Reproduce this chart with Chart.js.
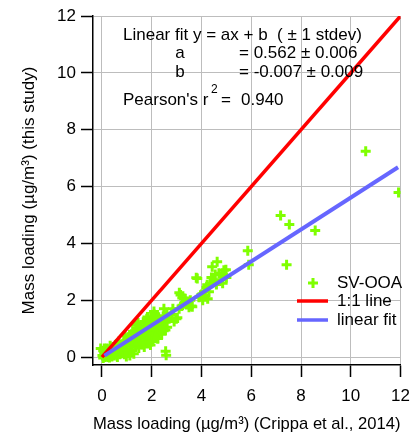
<!DOCTYPE html>
<html>
<head>
<meta charset="utf-8">
<script src="https://cdn.jsdelivr.net/npm/chart.js@4.4.1/dist/chart.umd.min.js"></script>
<style>
  html, body { margin: 0; padding: 0; background: #fff; }
  #wrap { width: 419px; height: 435px; }
</style>
</head>
<body>
<div id="wrap"><canvas id="chart"></canvas></div>
<script>
// SV-OOA mass loading: Crippa et al. 2014 (x) vs this study (y)
const xVals = [
  0.02, 0.05, 0.10, 0.15, 0.20, 0.22, 0.28, 0.30, 0.35, 0.38, 0.42, 0.45, 0.50, 0.52, 0.55,
  0.60, 0.62, 0.65, 0.70, 0.72, 0.75, 0.80, 0.80, 0.10, 0.18, 0.05, 0.25, 0.33, 0.48, 0.58,
  -0.05, 0.12, 0.40, 0.68,
  0.85, 0.88, 0.90, 0.95, 1.00, 1.00, 1.05, 1.08, 1.10, 1.15, 1.18, 1.20, 1.22, 1.25, 1.30,
  1.32, 1.35, 1.38, 1.40, 1.42, 1.45, 1.48, 1.50, 1.52, 1.55, 1.58, 1.60, 0.92, 1.12, 1.28,
  0.98, 1.36, 1.45,
  1.62, 1.65, 1.68, 1.70, 1.72, 1.75, 1.78, 1.80, 1.82, 1.85, 1.88, 1.90, 1.92, 1.95, 1.98,
  2.00, 2.02, 2.05, 2.08, 2.10, 2.12, 2.15, 2.18, 2.20, 2.22, 2.25, 2.28, 2.30, 2.32, 2.35,
  2.38, 2.40, 2.45, 2.49, 2.50, 2.55, 2.60, 2.55, 2.62, 1.83, 2.09, 1.70, 1.95, 2.00, 1.89,
  2.23, 2.56, 2.58,
  2.70, 2.80, 2.90, 2.99, 3.03, 3.10, 3.11, 3.16, 3.23, 3.30, 3.35, 3.40, 3.45, 3.50, 3.55,
  3.60, 3.63, 3.20, 2.85,
  3.79, 3.83, 3.90, 4.00, 4.05, 4.10, 4.15, 4.20, 4.23, 4.25, 4.30, 4.35, 4.40, 4.43, 4.50,
  4.55, 4.63, 4.70, 4.78, 4.83, 4.90, 4.98, 5.00, 4.85, 4.60,
  5.86, 5.90, 7.18, 7.42, 7.53, 8.57, 10.60, 11.92
];
const yVals = [
  0.05, 0.22, 0.12, 0.02, 0.30, 0.10, 0.18, -0.02, 0.25, 0.08, 0.15, 0.35, 0.05, 0.22, 0.12,
  0.30, 0.00, 0.20, 0.40, 0.10, 0.28, 0.18, 0.45, 0.30, 0.20, -0.03, 0.00, 0.40, 0.25, 0.45,
  0.30, 0.00, 0.02, 0.55,
  0.30, 0.55, 0.10, 0.45, 0.60, 0.25, 0.70, 0.15, 0.50, 0.38, 0.80, 0.60, 0.25, 0.90, 0.50,
  0.70, 0.35, 1.00, 0.60, 0.80, 0.45, 0.32, 0.70, 0.95, 0.55, 1.10, 0.80, 0.75, 0.05, 0.12,
  0.02, 1.12, 1.20,
  0.45, 0.95, 0.70, 1.25, 0.55, 1.00, 0.85, 1.35, 0.60, 1.10, 0.90, 0.50, 1.20, 0.75, 1.40,
  1.00, 0.65, 1.20, 0.85, 1.50, 1.05, 0.70, 1.30, 0.95, 1.15, 0.65, 1.40, 1.20, 0.90, 1.05,
  1.30, 0.80, 1.15, 1.70, 1.45, 1.25, 1.55, 0.95, 1.05, 1.41, 1.60, 0.35, 0.42, 0.55, 0.53,
  0.65, 0.20, 0.06,
  1.35, 1.50, 1.25, 1.35, 1.38, 1.70, 2.26, 2.18, 2.08, 1.90, 2.05, 1.85, 1.95, 1.75, 2.00,
  1.80, 1.77, 1.80, 1.70,
  2.79, 2.76, 2.10, 2.20, 2.00, 2.30, 2.15, 2.45, 2.54, 2.05, 2.30, 2.60, 2.80, 3.18, 2.70,
  2.90, 3.35, 2.95, 2.72, 2.90, 3.05, 3.07, 2.80, 2.60, 2.55,
  3.74, 3.25, 4.98, 3.25, 4.66, 4.45, 7.24, 5.79
];

// 1:1 line and linear fit (y = 0.562x - 0.007) end points
const oneToOneX = [0, 12];
const oneToOneY = [0, 12];
const fitX = [0.1, 11.9];
const fitY = [0.05, 6.68];

const tickValues = [0, 2, 4, 6, 8, 10, 12];

const fitText = [
  'Linear fit y = ax + b  ( \u00b1 1 stdev)',
  'a', '= 0.562 \u00b1 0.006',
  'b', '= -0.007 \u00b1 0.009'
];
const legendLabels = ['SV-OOA', '1:1 line', 'linear fit'];

const FONT = '"Liberation Sans", Arial, sans-serif';
const FS = 17;
const GREEN = '#7fff00';
const RED = '#ff0000';
const BLUE = '#6666ff';

function toPoints(xs, ys) {
  return xs.map((x, i) => ({ x: x, y: ys[i] }));
}

// text box + legend drawn inside the plot area
const annotations = {
  id: 'annotations',
  afterDraw(chart) {
    const ctx = chart.ctx;
    const a = chart.chartArea;
    ctx.save();
    ctx.fillStyle = '#000';
    ctx.textBaseline = 'alphabetic';
    ctx.font = FS + 'px ' + FONT;
    ctx.textAlign = 'left';
    ctx.fillText(fitText[0], a.left + 30, a.top + 24);
    ctx.textAlign = 'center';
    ctx.fillText(fitText[1], a.left + 87, a.top + 42);
    ctx.fillText(fitText[3], a.left + 87, a.top + 61);
    ctx.textAlign = 'left';
    ctx.fillText(fitText[2], a.left + 146, a.top + 42);
    ctx.fillText(fitText[4], a.left + 146, a.top + 61);

    ctx.fillText("Pearson's r", a.left + 30, a.top + 89);
    ctx.font = '12px ' + FONT;
    ctx.fillText('2', a.left + 118, a.top + 77);
    ctx.font = FS + 'px ' + FONT;
    ctx.fillText('=', a.left + 128, a.top + 89);
    ctx.fillText('0.940', a.left + 148, a.top + 89);

    // legend
    const lx = a.left + 204;
    const tx = a.left + 244;
    const ly = [a.top + 267, a.top + 285, a.top + 304];
    ctx.strokeStyle = GREEN;
    ctx.lineWidth = 3;
    ctx.beginPath();
    ctx.moveTo(a.left + 215, ly[0]); ctx.lineTo(a.left + 225, ly[0]);
    ctx.moveTo(a.left + 220, ly[0] - 5); ctx.lineTo(a.left + 220, ly[0] + 5);
    ctx.stroke();
    ctx.lineWidth = 3.5;
    ctx.strokeStyle = RED;
    ctx.beginPath(); ctx.moveTo(lx, ly[1]); ctx.lineTo(lx + 31, ly[1]); ctx.stroke();
    ctx.strokeStyle = BLUE;
    ctx.beginPath(); ctx.moveTo(lx, ly[2]); ctx.lineTo(lx + 31, ly[2]); ctx.stroke();
    ctx.textBaseline = 'middle';
    ctx.fillStyle = '#000';
    legendLabels.forEach((t, i) => ctx.fillText(t, tx, ly[i]));
    ctx.restore();
  }
};

const axisCommon = {
  type: 'linear',
  max: 12,
  afterBuildTicks: scale => { scale.ticks = tickValues.map(v => ({ value: v })); },
  grid: {
    color: '#bdbdbd',
    lineWidth: 1,
    borderDash: [2, 2],
    drawTicks: true,
    tickLength: 12,
    tickColor: '#000',
    tickWidth: 1.5,
    tickBorderDash: []
  },
  border: { display: true, color: '#000', width: 1.5 },
  ticks: { color: '#000', font: { family: FONT, size: FS }, autoSkip: false }
};

new Chart(document.getElementById('chart'), {
  type: 'scatter',
  data: {
    datasets: [
      {
        label: legendLabels[2],
        type: 'line',
        data: toPoints(fitX, fitY),
        borderColor: BLUE,
        borderWidth: 4,
        pointRadius: 0,
        order: 1
      },
      {
        label: legendLabels[1],
        type: 'line',
        data: toPoints(oneToOneX, oneToOneY),
        borderColor: RED,
        borderWidth: 3.5,
        pointRadius: 0,
        order: 2
      },
      {
        label: legendLabels[0],
        data: toPoints(xVals, yVals),
        pointStyle: 'cross',
        pointRadius: 5,
        borderWidth: 3,
        borderColor: GREEN,
        backgroundColor: GREEN,
        order: 3
      }
    ]
  },
  options: {
    responsive: true,
    maintainAspectRatio: false,
    animation: false,
    layout: { padding: { left: 0, top: 16, right: 16, bottom: 0 } },
    plugins: {
      legend: { display: false },
      tooltip: { enabled: false }
    },
    scales: {
      x: Object.assign({}, axisCommon, {
        min: -0.36,
        position: 'bottom',
        afterFit: scale => { scale.height = 70; },
        ticks: Object.assign({}, axisCommon.ticks, { padding: 9, maxRotation: 0 }),
        title: {
          display: true,
          text: 'Mass loading (\u00b5g/m\u00b3) (Crippa et al., 2014)',
          color: '#000',
          font: { family: FONT, size: FS },
          padding: { top: 0, bottom: 0 }
        }
      }),
      y: Object.assign({}, axisCommon, {
        min: -0.28,
        position: 'left',
        afterFit: scale => { scale.width = 93; },
        ticks: Object.assign({}, axisCommon.ticks, { padding: 5 }),
        title: {
          display: true,
          text: 'Mass loading (\u00b5g/m\u00b3) (this study)',
          color: '#000',
          font: { family: FONT, size: FS },
          padding: { top: 19, bottom: 0 }
        }
      })
    }
  },
  plugins: [annotations]
});
</script>
</body>
</html>
